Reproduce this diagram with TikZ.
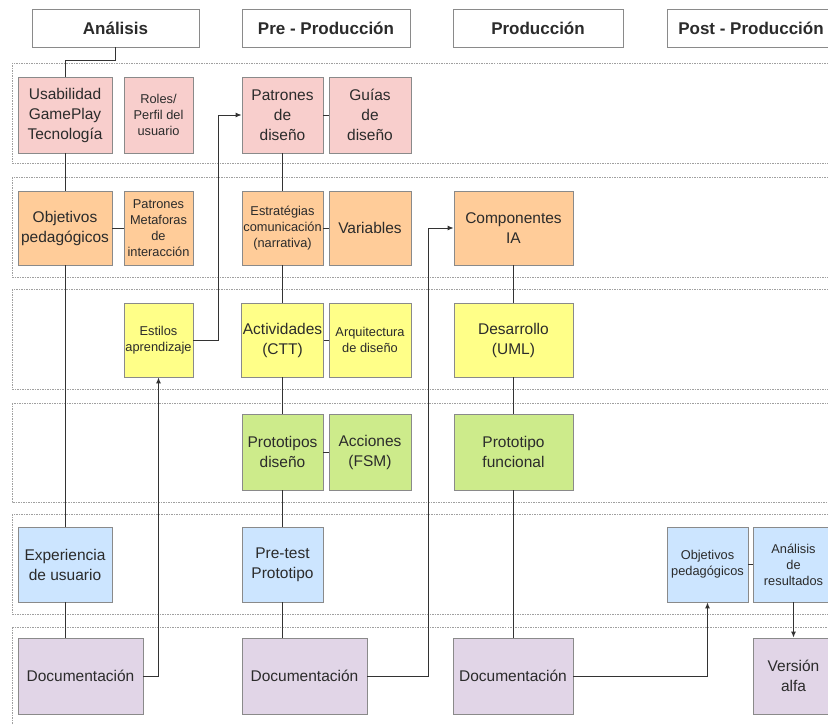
\documentclass[tikz,border=0pt]{standalone}
\usepackage{fontspec}
\setmainfont{Liberation Sans}
\usetikzlibrary{arrows.meta}
\definecolor{cpink}{HTML}{F8CECC}
\definecolor{corange}{HTML}{FFCC99}
\definecolor{cyellow}{HTML}{FFFF88}
\definecolor{cgreen}{HTML}{CDEB8B}
\definecolor{cblue}{HTML}{CCE5FF}
\definecolor{cpurple}{HTML}{E1D5E7}
\definecolor{cstroke}{HTML}{8A8A8A}
\definecolor{ctext}{HTML}{2B2B2B}
\definecolor{clane}{HTML}{A0A0A0}
\definecolor{cline}{HTML}{333333}
\tikzset{
  sz/.style 2 args={minimum width=#1, minimum height=#2},
  hdr/.style={draw=cstroke, line width=0.9pt, fill=white, text=ctext, inner sep=1pt,
    font=\bfseries\fontsize{17}{20}\selectfont},
  bx/.style={draw=cstroke, line width=0.8pt, align=center, inner sep=1pt, text=ctext},
  big/.style={font=\fontsize{15.5}{20}\selectfont},
  small/.style={font=\fontsize{12.8}{16}\selectfont},
  pinkbox/.style={bx, fill=cpink},
  orangebox/.style={bx, fill=corange},
  yellowbox/.style={bx, fill=cyellow},
  greenbox/.style={bx, fill=cgreen},
  bluebox/.style={bx, fill=cblue},
  purplebox/.style={bx, fill=cpurple},
  lane/.style={draw=clane, line width=0.6pt, dash pattern=on 1.5pt off 1pt},
  conn/.style={draw=cline, line width=1pt},
  arr/.style={conn, -{Latex[length=6pt,width=5pt]}},
}
\begin{document}
\begin{tikzpicture}[x=1pt, y=-1pt]
\useasboundingbox (0,0) rectangle (828,725);
\clip (0,0) rectangle (828,725);
% lanes
\draw[lane] (12,63) rectangle (845,163);
\draw[lane] (12,177) rectangle (845,277);
\draw[lane] (12,289) rectangle (845,389);
\draw[lane] (12,403) rectangle (845,502);
\draw[lane] (12,514) rectangle (845,614);
\draw[lane] (12,627) rectangle (845,745);
% headers
\node[hdr, sz={167pt}{38pt}] (hA) at (115.5,28) {Análisis};
\node[hdr, sz={168pt}{38pt}] (hB) at (326,28) {Pre - Producción};
\node[hdr, sz={170pt}{38pt}] (hC) at (538,28) {Producción};
\node[hdr, sz={168pt}{38pt}] (hD) at (751,28) {Post - Producción};
% lane 1
\node[pinkbox, big, sz={94pt}{76pt}] (usab) at (65,115) {Usabilidad\\GamePlay\\Tecnología};
\node[pinkbox, small, sz={69pt}{76pt}] (roles) at (158.5,115) {Roles/\\Perfil del\\usuario};
\node[pinkbox, big, sz={81pt}{76pt}] (patr) at (282.5,115) {Patrones\\de\\diseño};
\node[pinkbox, big, sz={82pt}{76pt}] (guias) at (370,115) {Guías\\de\\diseño};
% lane 2
\node[orangebox, big, sz={94pt}{74pt}] (obj) at (65,228) {Objetivos\\pedagógicos};
\node[orangebox, small, sz={69pt}{74pt}] (pmet) at (158.5,228) {Patrones\\Metaforas\\de\\interacción};
\node[orangebox, small, sz={81pt}{74pt}] (estr) at (282.5,228) {Estratégias\\comunicación\\(narrativa)};
\node[orangebox, big, sz={82pt}{74pt}] (vars) at (370,228) {Variables};
\node[orangebox, big, sz={119pt}{74pt}] (comp) at (513.5,228) {Componentes\\IA};
% lane 3
\node[yellowbox, small, sz={69pt}{74pt}] (est) at (158.5,340) {Estilos\\aprendizaje};
\node[yellowbox, big, sz={81pt}{74pt}] (act) at (282.5,340) {Actividades\\(CTT)};
\node[yellowbox, small, sz={82pt}{74pt}] (arq) at (370,340) {Arquitectura\\de diseño};
\node[yellowbox, big, sz={119pt}{74pt}] (des) at (513.5,340) {Desarrollo\\(UML)};
% lane 4
\node[greenbox, big, sz={81pt}{76pt}] (prot) at (282.5,452) {Prototipos\\diseño};
\node[greenbox, big, sz={82pt}{76pt}] (acc) at (370,452) {Acciones\\(FSM)};
\node[greenbox, big, sz={119pt}{76pt}] (pf) at (513.5,452) {Prototipo\\funcional};
% lane 5
\node[bluebox, big, sz={94pt}{75pt}] (exp) at (65,564.5) {Experiencia\\de usuario};
\node[bluebox, big, sz={81pt}{75pt}] (pre) at (282.5,564.5) {Pre-test\\Prototipo};
\node[bluebox, small, sz={81pt}{75pt}] (objp) at (707.5,564.5) {Objetivos\\pedagógicos};
\node[bluebox, small, sz={81pt}{75pt}] (ana) at (793.5,564.5) {Análisis\\de\\resultados};
% lane 6
\node[purplebox, big, sz={125pt}{76pt}] (docA) at (80.5,676) {Documentación};
\node[purplebox, big, sz={125pt}{76pt}] (docB) at (304.5,676) {Documentación};
\node[purplebox, big, sz={120pt}{76pt}] (docC) at (513,676) {Documentación};
\node[purplebox, big, sz={81pt}{76pt}] (ver) at (793.5,676) {Versión\\alfa};
% connectors
\draw[conn] (hA.south) -- ++(0,13) -| (usab.north);
\draw[conn] (usab) -- (obj);
\draw[conn] (obj) -- (exp);
\draw[conn] (exp.south) -- (exp.south |- docA.north);
\draw[conn] (obj) -- (pmet);
\draw[arr] (docA.east) -| (est.south);
\draw[arr] (est.east) -- ++(25,0) |- (patr.west);
\draw[conn] (patr) -- (guias);
\draw[conn] (patr) -- (estr);
\draw[conn] (estr) -- (vars);
\draw[conn] (estr) -- (act);
\draw[conn] (act) -- (arq);
\draw[conn] (act) -- (prot);
\draw[conn] (prot) -- (acc);
\draw[conn] (prot) -- (pre);
\draw[conn] (pre.south) -- (pre.south |- docB.north);
\draw[arr] (docB.east) -- ++(61,0) |- (comp.west);
\draw[conn] (comp) -- (des);
\draw[conn] (des) -- (pf);
\draw[conn] (pf.south) -- (pf.south |- docC.north);
\draw[arr] (docC.east) -| (objp.south);
\draw[conn] (objp) -- (ana);
\draw[arr] (ana) -- (ver);
\end{tikzpicture}
\end{document}
